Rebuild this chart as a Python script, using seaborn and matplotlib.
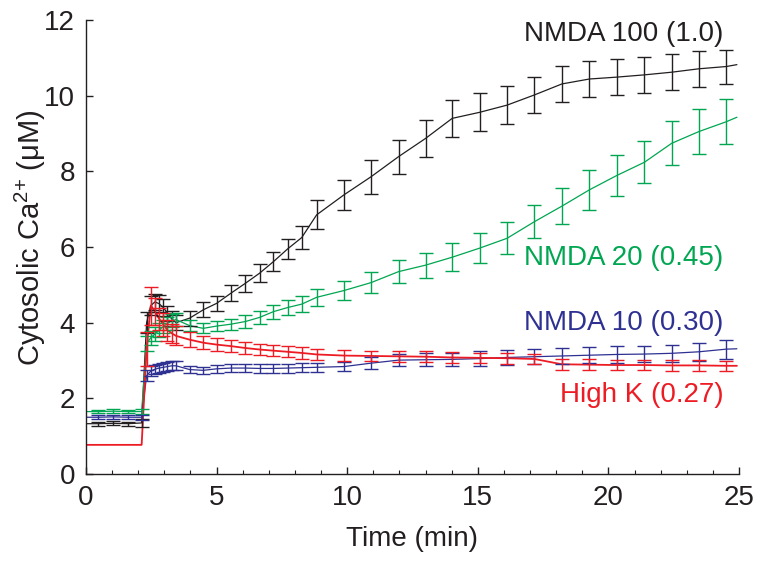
import numpy as np
import pandas as pd
import matplotlib
matplotlib.use("Agg")
import matplotlib.pyplot as plt
import seaborn as sns
from matplotlib.ticker import MultipleLocator

# ---- data ----
time = [0.0, 0.47, 1.05, 1.62, 2.13, 2.32, 2.48, 2.64, 2.80, 2.96, 3.12, 3.28, 3.45,
        3.97, 4.49, 5.00, 5.55, 6.10, 6.65, 7.17, 7.72, 8.26, 8.83, 9.88, 10.92,
        11.97, 13.00, 14.02, 15.07, 16.12, 17.17, 18.22, 19.27, 20.32, 21.38,
        22.42, 23.46, 24.51, 24.92]

nmda100 = [1.33, 1.33, 1.34, 1.33, 1.35, 4.00, 4.45, 4.55, 4.50, 4.40, 4.25, 4.10, 4.00,
           4.12, 4.34, 4.51, 4.78, 5.04, 5.31, 5.61, 5.95, 6.25, 6.85, 7.38, 7.86,
           8.39, 8.87, 9.40, 9.56, 9.75, 10.02, 10.31, 10.44, 10.49, 10.55,
           10.62, 10.71, 10.77, 10.82]
nmda100_err = [0.0, 0.05, 0.05, 0.05, 0.10, 0.28, 0.25, 0.22, 0.22, 0.22, 0.20, 0.20, 0.20,
               0.20, 0.20, 0.20, 0.21, 0.23, 0.24, 0.25, 0.26, 0.30, 0.38, 0.40, 0.45,
               0.45, 0.48, 0.49, 0.50, 0.50, 0.48, 0.47, 0.48, 0.47, 0.47,
               0.48, 0.48, 0.45, 0.0]

nmda20 = [1.65, 1.65, 1.66, 1.65, 1.65, 3.45, 3.60, 3.70, 3.80, 3.90, 3.98, 4.05, 4.08,
          3.92, 3.85, 3.91, 3.96, 4.03, 4.14, 4.29, 4.40, 4.49, 4.67, 4.85, 5.06,
          5.35, 5.52, 5.73, 5.97, 6.23, 6.67, 7.08, 7.51, 7.89, 8.24,
          8.74, 9.05, 9.31, 9.43]
nmda20_err = [0.0, 0.05, 0.05, 0.05, 0.06, 0.20, 0.18, 0.18, 0.18, 0.17, 0.17, 0.17, 0.17,
              0.15, 0.13, 0.14, 0.15, 0.16, 0.17, 0.19, 0.20, 0.21, 0.22, 0.25, 0.27,
              0.30, 0.33, 0.37, 0.40, 0.42, 0.44, 0.48, 0.53, 0.55, 0.55,
              0.58, 0.59, 0.59, 0.0]

nmda10 = [1.50, 1.50, 1.51, 1.50, 1.50, 2.60, 2.72, 2.77, 2.80, 2.82, 2.84, 2.86, 2.86,
          2.76, 2.74, 2.78, 2.80, 2.80, 2.79, 2.79, 2.80, 2.81, 2.82, 2.84, 2.93,
          3.01, 3.02, 3.03, 3.05, 3.08, 3.10, 3.12, 3.14, 3.16, 3.17,
          3.19, 3.23, 3.30, 3.31]
nmda10_err = [0.0, 0.05, 0.05, 0.05, 0.06, 0.15, 0.13, 0.12, 0.12, 0.12, 0.12, 0.12, 0.12,
              0.10, 0.10, 0.10, 0.11, 0.11, 0.11, 0.11, 0.12, 0.12, 0.12, 0.13, 0.15,
              0.16, 0.17, 0.18, 0.19, 0.20, 0.20, 0.21, 0.21, 0.22, 0.22,
              0.22, 0.23, 0.25, 0.0]

highk = [0.77, 0.77, 0.77, 0.77, 0.77, 3.30, 4.45, 4.30, 4.10, 3.95, 3.80, 3.72, 3.65,
         3.55, 3.47, 3.42, 3.38, 3.33, 3.29, 3.26, 3.23, 3.20, 3.16, 3.13, 3.12,
         3.11, 3.10, 3.08, 3.07, 3.06, 3.04, 2.90, 2.89, 2.88, 2.88,
         2.87, 2.87, 2.86, 2.86]
highk_err = [0.0, 0.0, 0.0, 0.0, 0.0, 0.45, 0.50, 0.35, 0.30, 0.30, 0.28, 0.25, 0.25,
             0.20, 0.17, 0.17, 0.16, 0.16, 0.15, 0.15, 0.15, 0.15, 0.15, 0.14, 0.14,
             0.14, 0.14, 0.14, 0.14, 0.14, 0.14, 0.14, 0.14, 0.14, 0.14,
             0.14, 0.14, 0.14, 0.0]

series_names = ["NMDA 100 (1.0)", "NMDA 20 (0.45)", "NMDA 10 (0.30)", "High K (0.27)"]
colors = ["#231f20", "#00a651", "#2e3192", "#ed1c24"]
values = [nmda100, nmda20, nmda10, highk]
errors = [nmda100_err, nmda20_err, nmda10_err, highk_err]

x_ticks = [0, 5, 10, 15, 20, 25]
y_ticks = [0, 2, 4, 6, 8, 10, 12]

# ---- style ----
sns.set_theme(style="ticks")
plt.rcParams["font.family"] = ["Liberation Sans", "DejaVu Sans"]
plt.rcParams["mathtext.fontset"] = "custom"
plt.rcParams["mathtext.rm"] = "Liberation Sans"
plt.rcParams["mathtext.it"] = "Liberation Sans:italic"
plt.rcParams["mathtext.bf"] = "Liberation Sans:bold"

df = pd.concat([pd.DataFrame({"time": time, "ca": v, "err": e, "series": n})
                for n, v, e in zip(series_names, values, errors)], ignore_index=True)
palette = dict(zip(series_names, colors))

fig = plt.figure(figsize=(7.62, 5.63), dpi=100)
ax = fig.add_axes([86 / 762, 1 - 474 / 563, (739 - 86) / 762, (474 - 20) / 563])

sns.lineplot(data=df, x="time", y="ca", hue="series", palette=palette,
             linewidth=0.9, legend=False, ax=ax, sort=False, estimator=None)
# the High K trace is drawn slightly heavier in the reference
ax.get_lines()[3].set_linewidth(1.3)

for name in series_names:
    sub = df[(df["series"] == name) & (df["err"] > 0)]
    ax.errorbar(sub["time"], sub["ca"], yerr=sub["err"], fmt="none",
                ecolor=palette[name], elinewidth=1.0, capsize=5, capthick=1.0)

ax.set_xlim(0, 25)
ax.set_ylim(0, 12)
ax.set_xticks(x_ticks)
ax.set_yticks(y_ticks)
ax.xaxis.set_minor_locator(MultipleLocator(1))
ax.tick_params(axis="both", which="major", direction="in", length=5, width=1.0,
               labelsize=20, pad=8, colors="#231f20")
ax.tick_params(axis="x", which="minor", direction="in", length=3, width=0.8,
               colors="#231f20")
for s in ["top", "right"]:
    ax.spines[s].set_visible(False)
for s in ["left", "bottom"]:
    ax.spines[s].set_linewidth(1.0)
    ax.spines[s].set_color("#231f20")

ax.set_xlabel("Time (min)", fontsize=20, color="#231f20", labelpad=11)
ax.set_ylabel("Cytosolic Ca$^{2{+}}$ (μM)", fontsize=21, color="#231f20")
ax.yaxis.label.set_verticalalignment("center")
ax.yaxis.set_label_coords((30 - 86) / 653, (474 - 238) / 454)

label_y = [11.45, 5.52, 3.81, 1.91]
for name, c, yv in zip(series_names, colors, label_y):
    ax.text(24.4, yv, name, color=c, fontsize=20, ha="right", va="baseline")

fig.savefig("out.png", dpi=100)
